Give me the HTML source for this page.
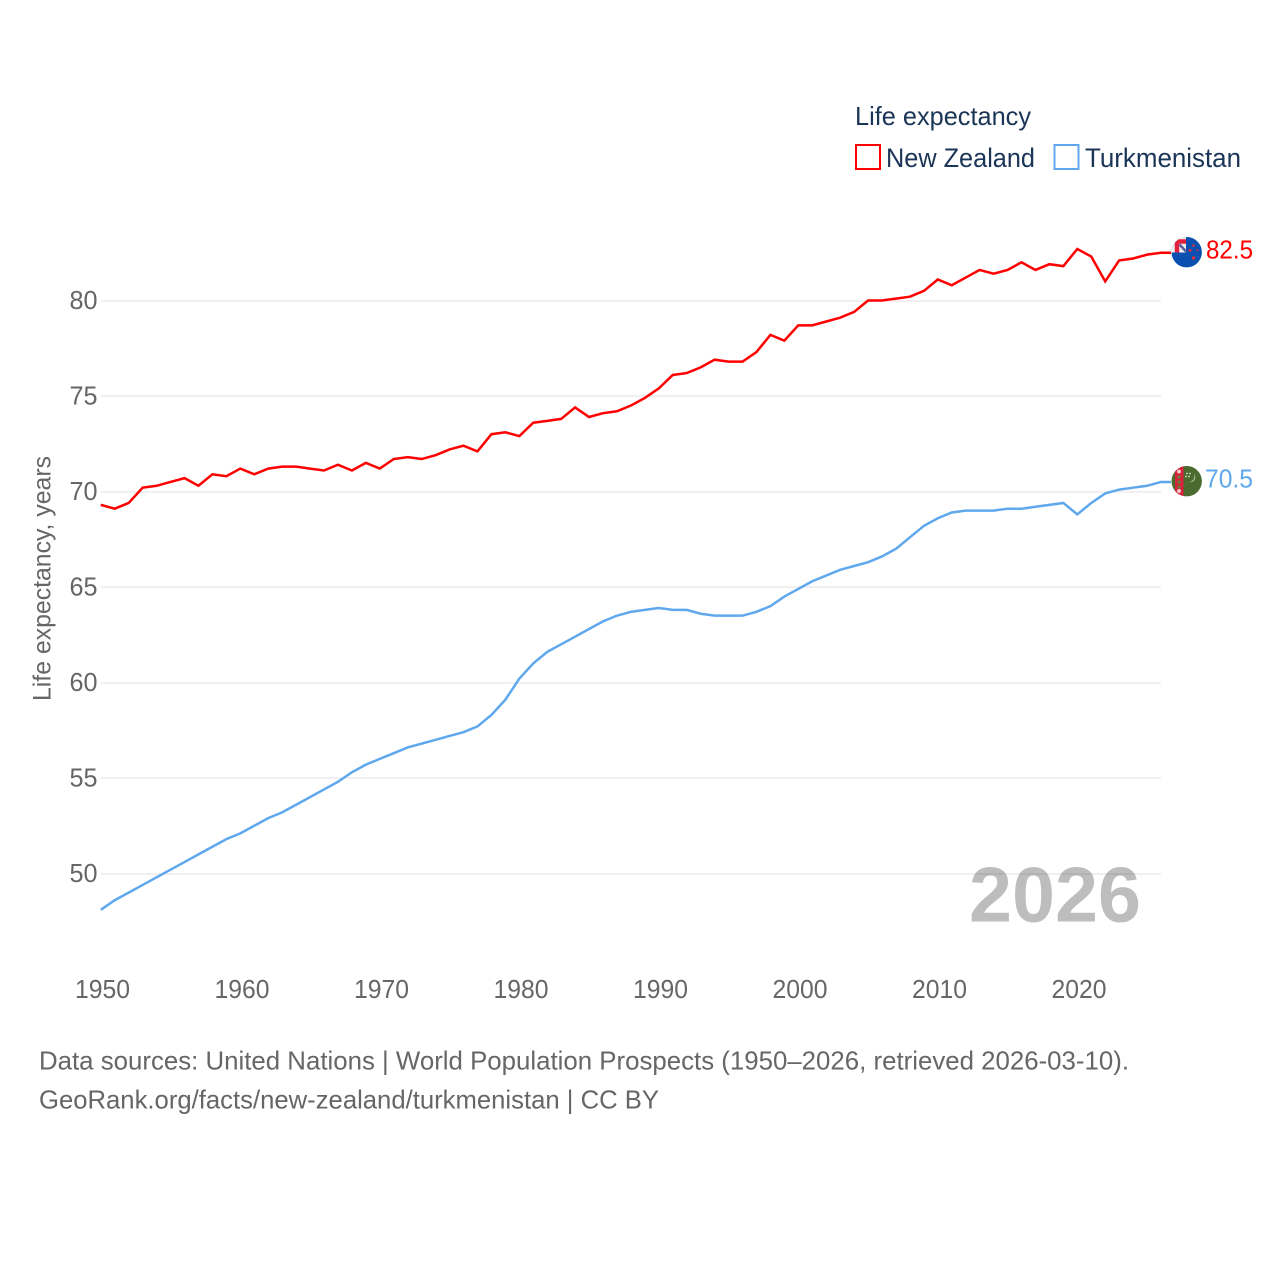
<!DOCTYPE html>
<html lang="en">
<head>
<meta charset="utf-8">
<title>Life expectancy: New Zealand and Turkmenistan</title>
<style>
html,body{margin:0;padding:0;background:#fff;}
svg{display:block;}
text{font-family:"Liberation Sans",sans-serif;}
</style>
</head>
<body>
<svg id="chart" width="1280" height="1280" viewBox="0 0 1280 1280" xmlns="http://www.w3.org/2000/svg">
  <defs>
    <clipPath id="nz-clip"><circle cx="1186.7" cy="252.2" r="15.2"/></clipPath>
    <clipPath id="tm-clip"><circle cx="1186.7" cy="481.2" r="15.2"/></clipPath>
  </defs>
  <rect x="0" y="0" width="1280" height="1280" fill="#fff"/>
  <g id="grid"></g>
  <g id="yticks"></g>
  <g id="xticks"></g>
  <text transform="translate(50.5,701) rotate(-90)" font-size="25" fill="#666" textLength="245" lengthAdjust="spacingAndGlyphs">Life expectancy, years</text>
  <text x="969" y="921.5" font-size="78" font-weight="700" fill="#000" fill-opacity="0.26" textLength="172" lengthAdjust="spacingAndGlyphs">2026</text>
  <g id="series"></g>

  <g clip-path="url(#nz-clip)">
    <rect x="1170" y="236" width="34" height="34" fill="#0b50b0"/>
    <rect x="1170" y="236" width="16" height="16.5" fill="#f3eeee"/>
    <path d="M1177 252.5V241.5H1186" fill="none" stroke="#e0203c" stroke-width="4.5"/>
    <path d="M1179.5 244.5L1186 251.5" stroke="#5a5f9c" stroke-width="2.5"/>
    <circle cx="1193.5" cy="245.5" r="1.3" fill="#d8303c"/>
    <circle cx="1190" cy="250.5" r="1.5" fill="#d8303c"/>
    <circle cx="1197.5" cy="250" r="1" fill="#d8303c"/>
    <circle cx="1193.5" cy="258" r="1.7" fill="#d8303c"/>
  </g>
  <g clip-path="url(#tm-clip)">
    <rect x="1170" y="465" width="34" height="34" fill="#4a6b2e"/>
    <rect x="1175" y="465" width="8.5" height="34" fill="#d9203c"/>
    <circle cx="1179" cy="471.5" r="2" fill="#f0c8c8"/>
    <circle cx="1179" cy="477" r="1.7" fill="#6f7a3a"/>
    <circle cx="1179" cy="482" r="1.7" fill="#6f7a3a"/>
    <circle cx="1179" cy="487" r="1.7" fill="#6f7a3a"/>
    <circle cx="1179" cy="491" r="2" fill="#f0c8c8"/>
    <path d="M1194 474A5.5 5.5 0 0 1 1189 482A5 5 0 0 0 1194 474Z" fill="#e8ece0"/>
    <circle cx="1187" cy="473.5" r="0.9" fill="#d8dfcc"/>
    <circle cx="1190" cy="473.5" r="0.9" fill="#d8dfcc"/>
    <circle cx="1186" cy="476.5" r="0.9" fill="#d8dfcc"/>
    <circle cx="1189" cy="476.5" r="0.9" fill="#d8dfcc"/>
  </g>

  <text x="1206" y="258.5" font-size="25.5" fill="#ff0000" textLength="47" lengthAdjust="spacingAndGlyphs">82.5</text>
  <text x="1205" y="487.5" font-size="25.5" fill="#5fa8ee" textLength="48" lengthAdjust="spacingAndGlyphs">70.5</text>

  <g>
    <text x="855" y="125" font-size="26" fill="#1b3557" textLength="176" lengthAdjust="spacingAndGlyphs">Life expectancy</text>
    <g>
      <rect x="856" y="145" width="24" height="24" fill="#fff" stroke="#ff0000" stroke-width="2"/>
      <text x="886" y="167" font-size="26.5" fill="#1b3557" textLength="149" lengthAdjust="spacingAndGlyphs">New Zealand</text>
    </g>
    <g>
      <rect x="1054.5" y="145" width="24" height="24" fill="#fff" stroke="#5fa8ee" stroke-width="2"/>
      <text x="1085" y="167" font-size="26.5" fill="#1b3557" textLength="156" lengthAdjust="spacingAndGlyphs">Turkmenistan</text>
    </g>
  </g>

  <text x="39" y="1069.5" font-size="26" fill="#666" textLength="1090" lengthAdjust="spacingAndGlyphs">Data sources: United Nations | World Population Prospects (1950–2026, retrieved 2026-03-10).</text>
  <text x="39" y="1108.5" font-size="26" fill="#666" textLength="620" lengthAdjust="spacingAndGlyphs">GeoRank.org/facts/new-zealand/turkmenistan | CC BY</text>
</svg>
<script>
const firstYear = 1950;
const newZealand = [69.3,69.1,69.4,70.2,70.3,70.5,70.7,70.3,70.9,70.8,71.2,70.9,71.2,71.3,71.3,71.2,71.1,71.4,71.1,71.5,71.2,71.7,71.8,71.7,71.9,72.2,72.4,72.1,73.0,73.1,72.9,73.6,73.7,73.8,74.4,73.9,74.1,74.2,74.5,74.9,75.4,76.1,76.2,76.5,76.9,76.8,76.8,77.3,78.2,77.9,78.7,78.7,78.9,79.1,79.4,80.0,80.0,80.1,80.2,80.5,81.1,80.8,81.2,81.6,81.4,81.6,82.0,81.6,81.9,81.8,82.7,82.3,81.0,82.1,82.2,82.4,82.5];
const turkmenistan = [48.1,48.6,49.0,49.4,49.8,50.2,50.6,51.0,51.4,51.8,52.1,52.5,52.9,53.2,53.6,54.0,54.4,54.8,55.3,55.7,56.0,56.3,56.6,56.8,57.0,57.2,57.4,57.7,58.3,59.1,60.2,61.0,61.6,62.0,62.4,62.8,63.2,63.5,63.7,63.8,63.9,63.8,63.8,63.6,63.5,63.5,63.5,63.7,64.0,64.5,64.9,65.3,65.6,65.9,66.1,66.3,66.6,67.0,67.6,68.2,68.6,68.9,69.0,69.0,69.0,69.1,69.1,69.2,69.3,69.4,68.8,69.4,69.9,70.1,70.2,70.3,70.5];
const yTicks = [50,55,60,65,70,75,80];
const xTicks = [1950,1960,1970,1980,1990,2000,2010,2020];

const NS = 'http://www.w3.org/2000/svg';
function xScale(year){ return 100.8 + (year - 1950) * 13.95; }
function yScale(v){ return 873.5 - (v - 50) * (873.5 - 300.5) / 30; }

const gridGroup = document.getElementById('grid');
const yTickGroup = document.getElementById('yticks');
const xTickGroup = document.getElementById('xticks');
const seriesGroup = document.getElementById('series');

yTicks.forEach(function(t){
  const line = document.createElementNS(NS,'line');
  
  
  line.setAttribute('x1', xScale(1950));
  line.setAttribute('x2', xScale(2026));
  line.setAttribute('y1', Math.round(yScale(t)));
  line.setAttribute('y2', Math.round(yScale(t)));
  line.setAttribute('stroke', '#ebebeb');
  line.setAttribute('stroke-width', '1.4');
  gridGroup.appendChild(line);

  const label = document.createElementNS(NS,'text');
  
  
  label.setAttribute('x', 69.5);
  label.setAttribute('y', yScale(t) + 8.5);
  label.setAttribute('font-size', '26');
  label.setAttribute('fill', '#666');
  label.setAttribute('textLength', '28');
  label.setAttribute('lengthAdjust', 'spacingAndGlyphs');
  label.textContent = t;
  yTickGroup.appendChild(label);
});

xTicks.forEach(function(t){
  const label = document.createElementNS(NS,'text');
  
  
  label.setAttribute('x', xScale(t) + 1.7 - 27.5);
  label.setAttribute('y', 998);
  label.setAttribute('font-size', '26');
  label.setAttribute('fill', '#666');
  label.setAttribute('textLength', '55');
  label.setAttribute('lengthAdjust', 'spacingAndGlyphs');
  label.textContent = t;
  xTickGroup.appendChild(label);
});

function linePoints(values){
  const pts = values.map(function(v,i){
    return xScale(firstYear + i).toFixed(2) + ',' + yScale(v).toFixed(2);
  });
  pts.push((xScale(firstYear + values.length - 1) + 10).toFixed(2) + ',' + yScale(values[values.length - 1]).toFixed(2));
  return pts.join(' ');
}

const turkmenLine = document.createElementNS(NS,'polyline');


turkmenLine.setAttribute('points', linePoints(turkmenistan));
turkmenLine.setAttribute('fill', 'none');
turkmenLine.setAttribute('stroke', '#5fa8ee');
turkmenLine.setAttribute('stroke-width', '2.5');
seriesGroup.appendChild(turkmenLine);

const nzLine = document.createElementNS(NS,'polyline');


nzLine.setAttribute('points', linePoints(newZealand));
nzLine.setAttribute('fill', 'none');
nzLine.setAttribute('stroke', '#ff0000');
nzLine.setAttribute('stroke-width', '2.5');
seriesGroup.appendChild(nzLine);
</script>
</body>
</html>
